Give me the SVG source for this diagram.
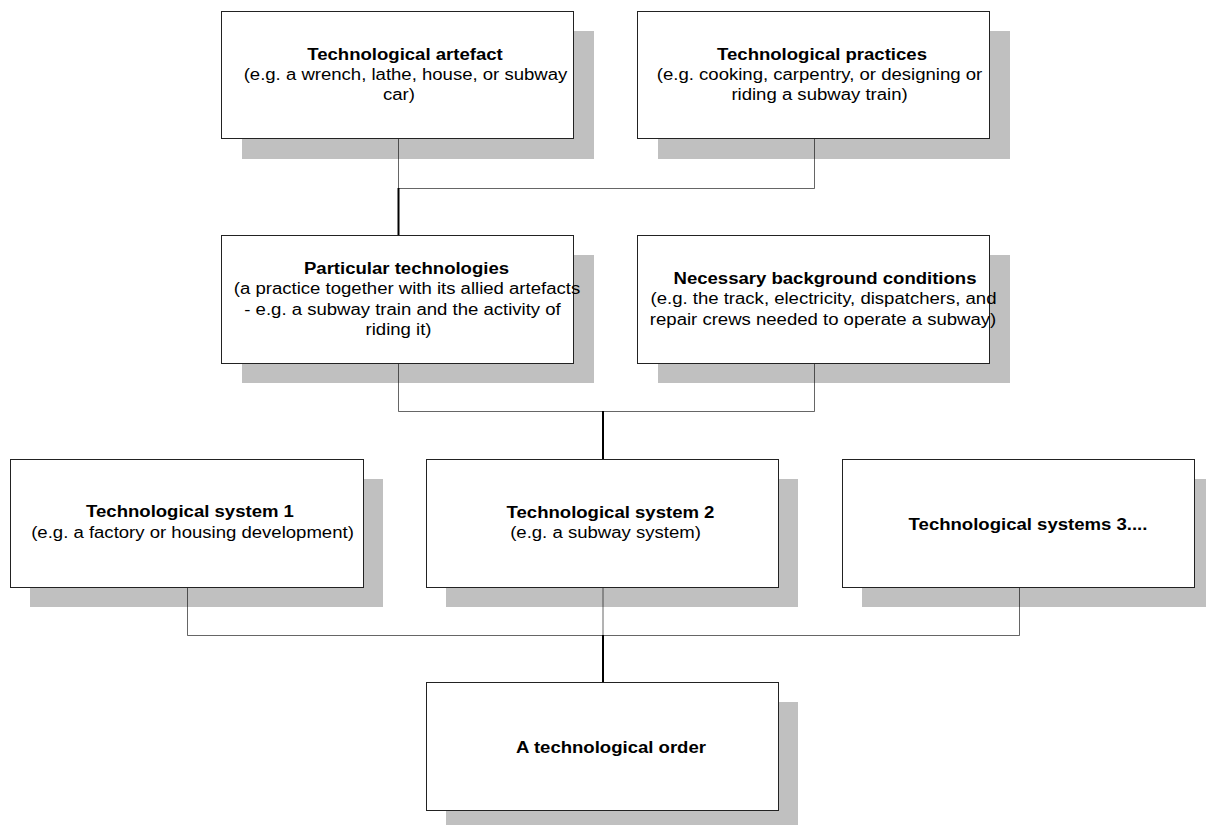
<svg xmlns="http://www.w3.org/2000/svg" width="1206" height="825" viewBox="0 0 1206 825">
<style>
.shadow{fill:#c0c0c0;stroke:none}
.box{fill:#fff;stroke:#222;stroke-width:1}
.t{font-family:"Liberation Sans",Arial,sans-serif;font-size:16px;fill:#000;text-anchor:middle}
.b{font-weight:bold}
.thin{stroke:#000;stroke-opacity:0.6;stroke-width:1;fill:none}
.thick{stroke:#000;stroke-width:2;fill:none}
</style>
<rect width="1206" height="825" fill="#fff"/>
<g id="shadows">
<rect class="shadow" x="242" y="31" width="352" height="128"/>
<rect class="shadow" x="658" y="31" width="352" height="128"/>
<rect class="shadow" x="242" y="255" width="352" height="128"/>
<rect class="shadow" x="658" y="255" width="352" height="128"/>
<rect class="shadow" x="30" y="479" width="353" height="128"/>
<rect class="shadow" x="446" y="479" width="352" height="128"/>
<rect class="shadow" x="862" y="479" width="352" height="128"/>
<rect class="shadow" x="446" y="702" width="352" height="128"/>
</g>
<g id="connectors">
<path class="thin" d="M398.5 138.5V188.5H814.5V138.5"/>
<path class="thick" d="M398.5 188V235.5"/>
<path class="thin" d="M398.5 363.5V411.5H814.5V363.5"/>
<path class="thick" d="M603 411V459.5"/>
<path class="thin" d="M187.5 587.5V635.5H1019.5V587.5M603 587.5V635"/>
<path class="thick" d="M603 635V682.5"/>
</g>
<g id="artefact">
<rect class="box" x="221.5" y="11.5" width="352" height="127"/>
<text class="t b" transform="translate(405,59.5) scale(1.16,1)">Technological artefact</text>
<text class="t" transform="translate(405.5,80) scale(1.16,1)">(e.g. a wrench, lathe, house, or subway</text>
<text class="t" transform="translate(399,100) scale(1.16,1)">car)</text>
</g>
<g id="practices">
<rect class="box" x="637.5" y="11.5" width="352" height="127"/>
<text class="t b" transform="translate(822,59.5) scale(1.16,1)">Technological practices</text>
<text class="t" transform="translate(819.5,80) scale(1.16,1)">(e.g. cooking, carpentry, or designing or</text>
<text class="t" transform="translate(819.5,100) scale(1.16,1)">riding a subway train)</text>
</g>
<g id="particular">
<rect class="box" x="221.5" y="235.5" width="352" height="128"/>
<text class="t b" transform="translate(406.5,273.5) scale(1.16,1)">Particular technologies</text>
<text class="t" transform="translate(407,294) scale(1.16,1)">(a practice together with its allied artefacts</text>
<text class="t" transform="translate(402.5,314.5) scale(1.16,1)">- e.g. a subway train and the activity of</text>
<text class="t" transform="translate(398.5,335) scale(1.16,1)">riding it)</text>
</g>
<g id="background">
<rect class="box" x="637.5" y="235.5" width="352" height="128"/>
<text class="t b" transform="translate(825,283.5) scale(1.16,1)">Necessary background conditions</text>
<text class="t" transform="translate(823.5,304) scale(1.16,1)">(e.g. the track, electricity, dispatchers, and</text>
<text class="t" transform="translate(823,324.5) scale(1.16,1)">repair crews needed to operate a subway)</text>
</g>
<g id="system1">
<rect class="box" x="10.5" y="459.5" width="353" height="128"/>
<text class="t b" transform="translate(190,517) scale(1.16,1)">Technological system 1</text>
<text class="t" transform="translate(192.5,537.5) scale(1.16,1)">(e.g. a factory or housing development)</text>
</g>
<g id="system2">
<rect class="box" x="426.5" y="459.5" width="352" height="128"/>
<text class="t b" transform="translate(610.5,517.5) scale(1.16,1)">Technological system 2</text>
<text class="t" transform="translate(605.5,538) scale(1.16,1)">(e.g. a subway system)</text>
</g>
<g id="system3">
<rect class="box" x="842.5" y="459.5" width="352" height="128"/>
<text class="t b" transform="translate(1028,529.5) scale(1.16,1)">Technological systems 3....</text>
</g>
<g id="order">
<rect class="box" x="426.5" y="682.5" width="352" height="128"/>
<text class="t b" transform="translate(611,752.5) scale(1.16,1)">A technological order</text>
</g>
</svg>
